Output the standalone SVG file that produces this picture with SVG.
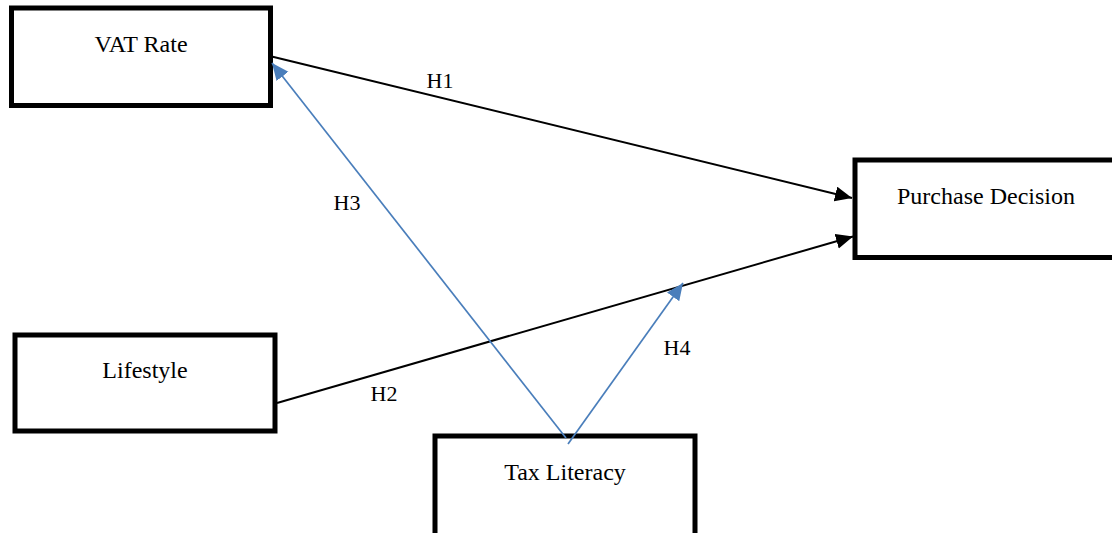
<svg xmlns="http://www.w3.org/2000/svg" width="1112" height="533" viewBox="0 0 1112 533">
<style>
  .box { fill: #fff; stroke: #000; stroke-width: 5; }
  .lbl { font-family: "Liberation Serif", "Times New Roman", serif; font-size: 24px; fill: #000; text-anchor: middle; }
  .hl { font-family: "Liberation Serif", "Times New Roman", serif; font-size: 22px; fill: #000; text-anchor: middle; }
  .blk { stroke: #000; stroke-width: 2; fill: none; }
  .blu { stroke: #4A7EBB; stroke-width: 1.7; fill: none; }
</style>
<defs>
  <marker id="ab" markerUnits="userSpaceOnUse" markerWidth="18" markerHeight="16" refX="17" refY="7.5" orient="auto">
    <path d="M0,0 L17,7.5 L0,15 z" fill="#000"/>
  </marker>
  <marker id="au" markerUnits="userSpaceOnUse" markerWidth="18" markerHeight="16" refX="17" refY="7.5" orient="auto">
    <path d="M0,0 L17,7.5 L0,15 z" fill="#4A7EBB"/>
  </marker>
</defs>
<rect width="1112" height="533" fill="#fff"/>
<g id="vat-rate">
  <rect class="box" x="11.5" y="8" width="259" height="97.5"/>
  <text class="lbl" x="141" y="52">VAT Rate</text>
</g>
<g id="purchase-decision">
  <rect class="box" x="855" y="160" width="300" height="97.5"/>
  <text class="lbl" x="986" y="204">Purchase Decision</text>
</g>
<g id="lifestyle">
  <rect class="box" x="15" y="335" width="260" height="96"/>
  <text class="lbl" x="145" y="378">Lifestyle</text>
</g>
<g id="tax-literacy">
  <rect class="box" x="435" y="436" width="260" height="120"/>
  <text class="lbl" x="565" y="480">Tax Literacy</text>
</g>
<g id="connectors">
  <line class="blk" x1="272.7" y1="56.7" x2="852" y2="198" marker-end="url(#ab)"/>
  <line class="blk" x1="277" y1="403" x2="853" y2="236.5" marker-end="url(#ab)"/>
  <line class="blu" x1="566" y1="438" x2="272" y2="63" marker-end="url(#au)"/>
  <line class="blu" x1="568" y1="444" x2="683" y2="283" marker-end="url(#au)"/>
  <text class="hl" x="440" y="88">H1</text>
  <text class="hl" x="384" y="401">H2</text>
  <text class="hl" x="347" y="210">H3</text>
  <text class="hl" x="677" y="355">H4</text>
</g>
</svg>
